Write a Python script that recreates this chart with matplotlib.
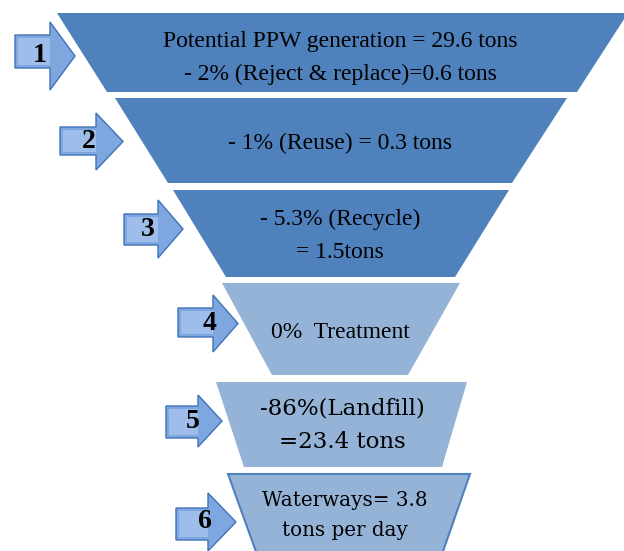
import matplotlib
matplotlib.use("Agg")
import matplotlib.pyplot as plt
from matplotlib.patches import Polygon

# funnel stages
steps = ["1", "2", "3", "4", "5", "6"]
stage_text = [
    "Potential PPW generation = 29.6 tons\n- 2% (Reject & replace)=0.6 tons",
    "- 1% (Reuse) = 0.3 tons",
    "- 5.3% (Recycle)\n= 1.5tons",
    "0%  Treatment",
    "-86%(Landfill)\n=23.4 tons",
    "Waterways= 3.8\ntons per day",
]

# geometry in pixels: (top, bottom, top-left, top-right, bottom-left, bottom-right)
shapes = [
    (13, 92, 57, 628, 107, 577),
    (98, 183, 115, 567, 168, 512),
    (190, 277, 173, 509, 226, 455),
    (283, 375, 222, 460, 272, 408),
    (382, 467, 216, 467, 244, 442),
    (474, 560, 228, 470, 259, 440),
]
fills = ["#4F81BD", "#4F81BD", "#4F81BD", "#95B3D7", "#95B3D7", "#95B3D7"]
edges = ["none", "none", "none", "none", "none", "#4F81BD"]
text_x = [340, 340, 340, 340, 342, 345]
text_lines_y = [(42, 74), (143,), (219, 253), (333,), (409, 442), (500, 530)]
text_font = ["Liberation Serif"] * 4 + ["DejaVu Serif"] * 2
text_size = [17, 17, 17, 17, 16.5, 14.3]

# arrows: (body left, body right, body top, body bottom, head top, head bottom, tip x)
arrows = [
    (15, 50, 35, 68, 22, 90, 75),
    (60, 96, 127, 155, 113, 170, 123),
    (124, 158, 214, 245, 200, 258, 183),
    (178, 213, 308, 337, 295, 352, 238),
    (166, 198, 406, 438, 395, 447, 222),
    (176, 208, 508, 540, 493, 551, 236),
]
num_x = [40, 89, 148, 210, 193, 205]

fig = plt.figure(figsize=(6.24, 5.51), dpi=100)
ax = fig.add_axes([0, 0, 1, 1])
ax.set_xlim(0, 624)
ax.set_ylim(551, 0)
ax.axis("off")

for i, (t, b, tl, tr, bl, br) in enumerate(shapes):
    poly = Polygon([(tl, t), (tr, t), (br, b), (bl, b)], closed=True,
                   facecolor=fills[i], edgecolor=edges[i], linewidth=1.5)
    ax.add_patch(poly)
    lines = stage_text[i].split("\n")
    for line, y in zip(lines, text_lines_y[i]):
        ax.text(text_x[i], y, line, ha="center", va="center",
                fontsize=text_size[i], family=text_font[i], color="black")

for i, (l, r, bt, bb, ht, hb, tip) in enumerate(arrows):
    mid = (ht + hb) / 2
    pts = [(l, bt), (r, bt), (r, ht), (tip, mid), (r, hb), (r, bb), (l, bb)]
    ax.add_patch(Polygon(pts, closed=True, facecolor="#7FA7DF",
                         edgecolor="#3F73B8", linewidth=1.0))
    # lighter inner strip for a gradient look
    ax.add_patch(Polygon([(l + 3, bt + 3), (r, bt + 3), (r, bb - 3), (l + 3, bb - 3)],
                         closed=True, facecolor="#9EBDEB", edgecolor="none"))
    ax.text(num_x[i], mid, steps[i], ha="center", va="center",
            fontsize=20, fontweight="bold", family="Liberation Serif", color="black")

fig.savefig("out.png", dpi=100)
